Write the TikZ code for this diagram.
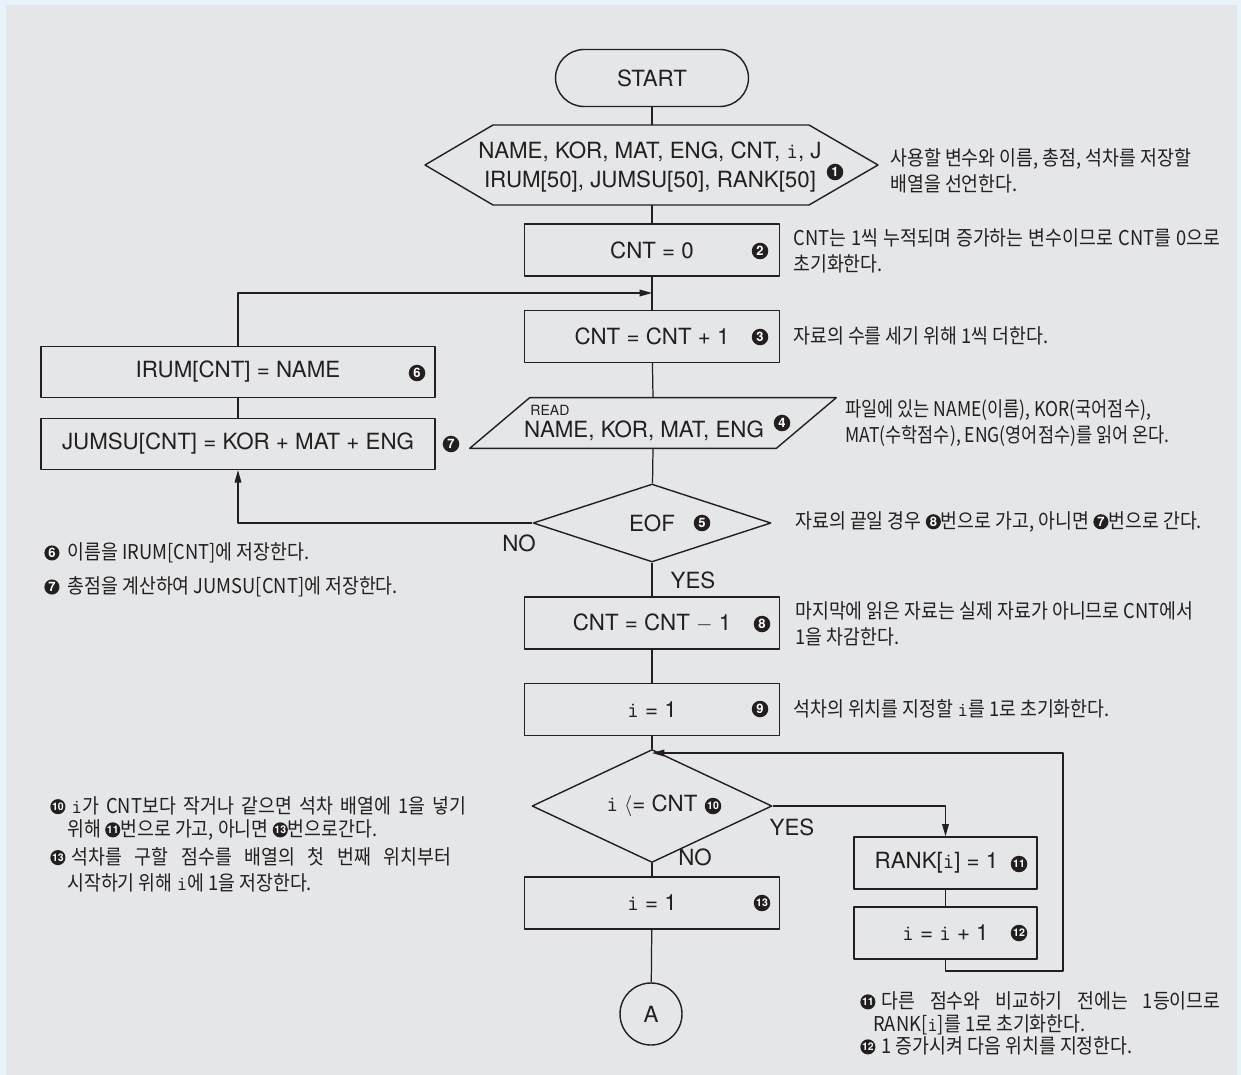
\documentclass[tikz,border=0pt]{standalone}
\usepackage{fontspec}
\setmainfont{TeX Gyre Heros}
\newfontfamily\kr{Noto Sans CJK KR}[FakeStretch=0.9]
\newfontfamily\krn{Noto Sans CJK KR}[FakeStretch=0.86]
\usetikzlibrary{arrows.meta,shapes.geometric}

\definecolor{panel}{HTML}{E5E6E8}
\definecolor{rim}{HTML}{E8F4FB}
\definecolor{ink}{HTML}{231F20}

\newcommand\boxfont{\fontsize{12.7}{16}\selectfont}

\tikzset{
  numdot/.style={circle,fill=ink,draw=none,text=white,anchor=center,inner sep=0pt,
    minimum size=9.4pt,font=\rmfamily\bfseries\fontsize{7.4}{7.4}\selectfont},
  numdot2/.style={numdot,font=\rmfamily\bfseries\fontsize{6}{6}\selectfont},
  box/.style={draw=ink,line width=0.8pt,text=ink,minimum width=5.1cm,minimum height=1.04cm,
    inner sep=0pt,font=\boxfont},
  wbox/.style={box,minimum width=7.88cm,minimum height=1.02cm},
  sbox/.style={box,minimum width=3.66cm},
  term/.style={box,rounded corners=0.57cm,minimum width=3.86cm,minimum height=1.14cm},
  decide/.style={box,diamond,minimum width=4.76cm,minimum height=1.56cm},
  blank/.style={inner sep=0pt,text=ink,font=\boxfont,align=center},
  link/.style={draw=ink,line width=0.7pt},
  yn/.style={inner sep=0pt,text=ink,font=\boxfont},
  note/.style={anchor=west,align=left,inner sep=0pt,text=ink,
    font=\kr\fontsize{11.6}{14.7}\selectfont},
}
\newcommand\cnum[1]{\tikz[baseline=-0.33em]\node[numdot,minimum size=8.6pt] (cn) {#1};}
\newcommand\cnumm[1]{\tikz[baseline=-0.33em]\node[numdot2,minimum size=8.6pt] (cn) {#1};}

\begin{document}
\begin{tikzpicture}[x=0.02cm,y=-0.02cm,>={Triangle[length=7pt,width=3.8pt]},line join=round]
  \useasboundingbox (0,0) rectangle (1241,1075);
  \fill[rim] (0,0) rectangle (1241,1075);
  \fill[panel] (6,5) rectangle (1237,1075);

  % main column
  \node[term] (start) at (652,78) {START};
  \node[blank] (decl) at (650,167)
    {NAME, KOR, MAT, ENG, CNT, {\ttfamily i}, J\\IRUM[50], JUMSU[50], RANK[50]};
  \coordinate (decl-n) at (652,125);
  \coordinate (decl-s) at (652,205);
  \draw[link,line width=0.8pt] (493,125) -- (809,125) -- (878,165) -- (809,205)
    -- (493,205) -- (425,165) -- cycle;
  \node[box] (cnt0) at (652,250) {CNT = 0};
  \node[box] (cnt1) at (652,336.5) {CNT = CNT + 1};
  \node[blank,minimum width=6.12cm,minimum height=1cm] (read) at (653,423) {};
  \draw[link,line width=0.8pt] ([xshift=0.6cm]read.north west) -- ([xshift=0.6cm]read.north east)
    -- ([xshift=-0.6cm]read.south east) -- ([xshift=-0.6cm]read.south west) -- cycle;
  \node[blank,anchor=west,font=\fontsize{8}{8}\selectfont] (readtag) at (530,410) {READ};
  \node[blank] (readvars) at (644,431) {NAME, KOR, MAT, ENG};
  \node[decide] (eof) at (652,523) {EOF};
  \node[box] (cnt2) at (652,623) {CNT = CNT $-$ 1};
  \node[box] (iset) at (652,709.5) {{\ttfamily i} = 1};
  \node[decide,minimum width=4.8cm] (cmp) at (652,806) {{\ttfamily i} $\langle$= CNT};
  \node[box] (final) at (652,903) {{\ttfamily i} = 1};
  \node[box,circle,minimum size=1.24cm] (conA) at (651,1014) {A};

  % side boxes
  \node[wbox] (irum) at (238,372) {IRUM[CNT] = NAME};
  \node[wbox] (jumsu) at (238,444) {JUMSU[CNT] = KOR + MAT + ENG};
  \node[sbox] (rank) at (945.5,863) {RANK[{\ttfamily i}] = 1\hspace*{0.36cm}};
  \node[sbox] (incr) at (945.5,933) {{\ttfamily i} = {\ttfamily i} + 1};

  % step numbers
  \foreach \n/\x/\y in {1/835/172,2/760/251,3/760/337,4/782/423,5/702/523,
                        6/417/373,7/451/444,8/762/624,9/760/709}
    \node[numdot] (n\n) at (\x,\y) {\n};
  \foreach \n/\x/\y in {10/713/806,11/1019/864,12/1019/933,13/762/903}
    \node[numdot2] (n\n) at (\x,\y) {\n};

  % connectors
  \coordinate (join1) at (652,293);
  \coordinate (join2) at (652,753);
  \coordinate (turn) at (1063,971);
  \draw[link] (start) -- (decl-n);
  \draw[link] (decl-s) -- (cnt0);
  \draw[link] (cnt0) -- (cnt1);
  \draw[link] (cnt1) -- (read.north);
  \draw[link] (read.south) -- (eof);
  \draw[link] (eof) -- (cnt2);
  \draw[link] (cnt2) -- (iset);
  \draw[link] (iset) -- (cmp);
  \draw[link] (cmp) -- (final);
  \draw[link] (final) -- (conA);
  \draw[link] (irum) -- (jumsu);
  \draw[link] (rank) -- (incr);
  \draw[link,->] (irum.north) |- (join1);
  \draw[link,->] (eof.west) -| (jumsu.south);
  \draw[link,->] (cmp.east) -| (rank.north);
  \draw[link,->] (incr.south) |- (turn) |- (join2);

  \node[yn] (noA) at (519,543) {NO};
  \node[yn] (yesA) at (693,580) {YES};
  \node[yn] (yesB) at (792,827) {YES};
  \node[yn] (noB) at (695,857) {NO};

  % notes
  \node[note] (c1) at (890,171) {사용할 변수와 이름, 총점, 석차를 저장할\\배열을 선언한다.};
  \node[note] (c2) at (793,250.5)
    {\makebox[8.54cm][s]{CNT는 1씩 누적되며 증가하는 변수이므로 CNT를 0으로}\\초기화한다.};
  \node[note] (c3) at (793,336) {자료의 수를 세기 위해 1씩 더한다.};
  \node[note,font=\krn\fontsize{11.6}{14.7}\selectfont] (c4) at (845,423)
    {파일에 있는 NAME(이름), KOR(국어점수),\\MAT(수학점수), ENG(영어점수)를 읽어 온다.};
  \node[note] (c5) at (795,522) {자료의 끝일 경우 \cnum{8}번으로 가고, 아니면 \cnum{7}번으로 간다.};
  \node[note] (c6) at (795,624) {마지막에 읽은 자료는 실제 자료가 아니므로 CNT에서\\1을 차감한다.};
  \node[note] (c7) at (793,709) {석차의 위치를 지정할 {\ttfamily i}를 1로 초기화한다.};
  \node[note] (c8) at (44,553) {\cnum{6}\hspace{0.08cm} 이름을 IRUM[CNT]에 저장한다.};
  \node[note] (c9) at (44,587) {\cnum{7}\hspace{0.08cm} 총점을 계산하여 JUMSU[CNT]에 저장한다.};
  \node[note,font=\kr\fontsize{11.6}{13.2}\selectfont] (c10) at (50,818.5)
    {\cnumm{10}\hspace{0.04cm} \makebox[7.9cm][s]{{\ttfamily i}가 CNT보다 작거나 같으면 석차 배열에 1을 넣기}\\
     \hspace*{0.34cm}위해 \cnumm{11}번으로 가고, 아니면 \cnumm{13}번으로간다.};
  \node[note] (c13) at (50,869.5)
    {\cnumm{13}\hspace{0.04cm} \makebox[7.6cm][s]{석차를 구할 점수를 배열의 첫 번째 위치부터}\\
     \hspace*{0.34cm}시작하기 위해 {\ttfamily i}에 1을 저장한다.};
  \node[note,font=\kr\fontsize{11.6}{12.8}\selectfont] (c11) at (860,1023.5)
    {\cnumm{11}\hspace{0.04cm} \makebox[6.78cm][s]{다른 점수와 비교하기 전에는 1등이므로}\\
     \hspace*{0.26cm}RANK[{\ttfamily i}]를 1로 초기화한다.\\
     \cnumm{12}\hspace{0.04cm} 1 증가시켜 다음 위치를 지정한다.};
\end{tikzpicture}
\end{document}
